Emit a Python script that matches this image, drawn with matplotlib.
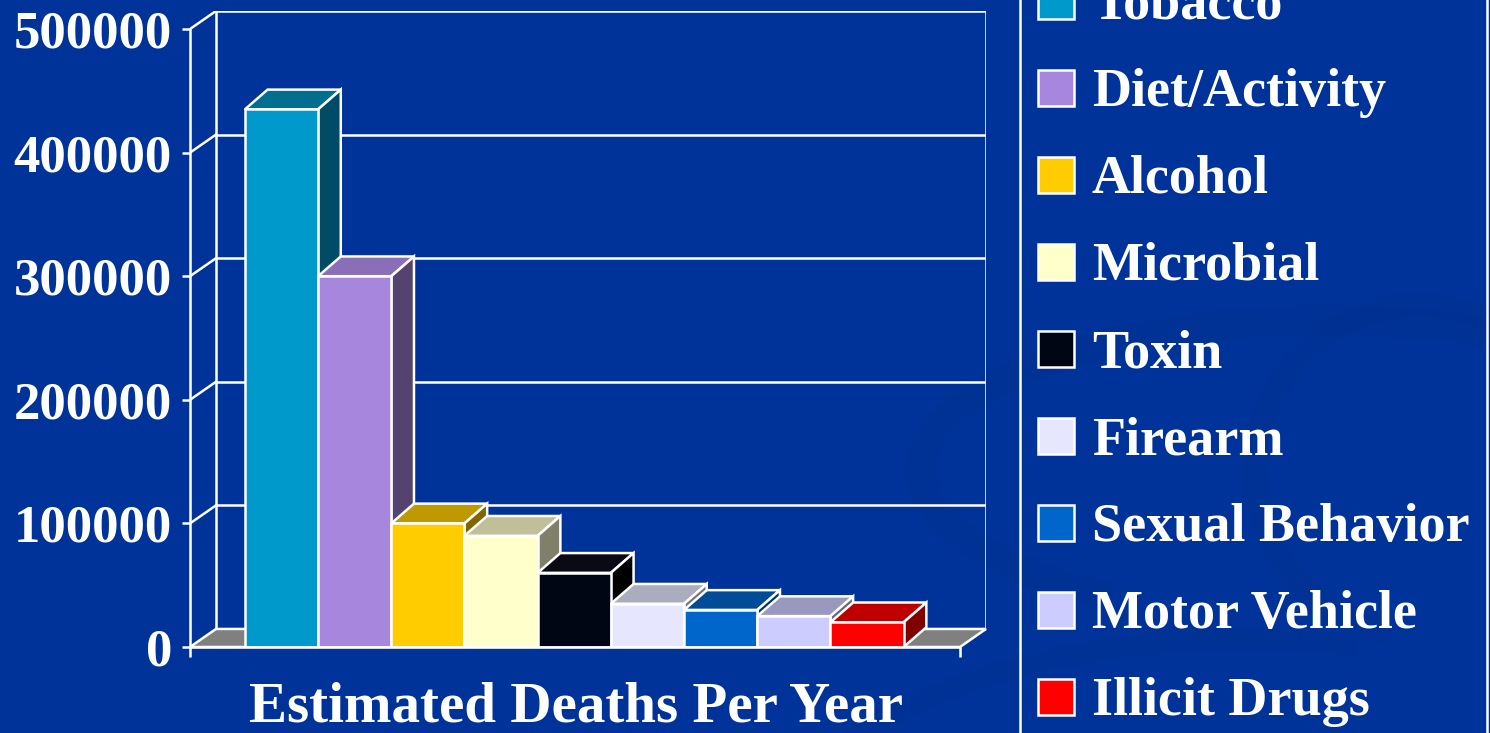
import matplotlib

matplotlib.use("Agg")
import matplotlib.pyplot as plt
from matplotlib.patches import Polygon, Rectangle, Arc

categories = ["Tobacco", "Diet/Activity", "Alcohol", "Microbial", "Toxin",
              "Firearm", "Sexual Behavior", "Motor Vehicle", "Illicit Drugs"]
deaths = [435000, 300000, 100000, 90000, 60000, 35000, 30000, 25000, 20000]
front_colors = ["#0099CC", "#A786DE", "#FFCC00", "#FFFFCC", "#000614",
                "#E6E6FF", "#0066CC", "#CCCCFF", "#FF0000"]
top_colors = ["#006F8F", "#8A6FB8", "#BF9900", "#BFBF99", "#0A0A14",
              "#ACACBF", "#004C99", "#9999BF", "#BF0000"]
side_colors = ["#004C66", "#54436F", "#806600", "#80806A", "#000000",
               "#737380", "#003366", "#666680", "#800000"]
yticks = [0, 100000, 200000, 300000, 400000, 500000]
xlabel = "Estimated Deaths Per Year"

W, H = 1490, 733
BG = "#003399"
WHITE = "white"
LW = 1.8
FONT = ["Liberation Serif", "DejaVu Serif"]

# 3d box geometry (data units)
XL, XR = -1.25, 9.27          # front plane left / right
DX, DY = 0.355, 14600         # wall depth offset
BX, BY = 0.31, 16000          # bar depth offset
YMAX = 500000

fig = plt.figure(figsize=(W / 100, H / 100), dpi=100, facecolor=BG)

# faint background swirl
bg = fig.add_axes([0, 0, 1, 1])
bg.set_xlim(0, W)
bg.set_ylim(H, 0)
bg.axis("off")
bg.set_facecolor(BG)
for cx, cy, w, h, t1, t2, lw in [(1330, 470, 820, 300, 150, 330, 22),
                                  (1420, 470, 330, 330, 100, 300, 18),
                                  (1250, 830, 900, 380, 190, 300, 16)]:
    bg.add_patch(Arc((cx, cy), w, h, theta1=t1, theta2=t2, color="#00318F",
                     lw=lw, alpha=0.4))

ax = fig.add_axes([190 / W, 1 - 647 / H, (986 - 190) / W, (647 - 11) / H])
ax.set_xlim(XL, XR + DX)
ax.set_ylim(0, YMAX + DY)
ax.patch.set_visible(False)
for s in ax.spines.values():
    s.set_visible(False)

# walls and gridlines
for v in yticks[1:]:
    ax.plot([XL + DX, XR + DX], [v + DY, v + DY], color=WHITE, lw=LW, zorder=1)
    ax.plot([XL, XL + DX], [v, v + DY], color=WHITE, lw=LW, zorder=1)
ax.plot([XL + DX, XL + DX], [DY, YMAX + DY], color=WHITE, lw=LW, zorder=1)
ax.plot([XR + DX, XR + DX], [DY, YMAX + DY], color=WHITE, lw=LW, zorder=1)
ax.plot([XL, XL], [0, YMAX], color=WHITE, lw=LW, zorder=1, clip_on=False)

# floor
ax.add_patch(Polygon([(XL, 0), (XR, 0), (XR + DX, DY), (XL + DX, DY)],
                     closed=True, facecolor="#808080", edgecolor=WHITE, lw=LW,
                     zorder=2, clip_on=False))

# bars with top and side faces
for i, v in enumerate(deaths):
    x0, x1 = i - 0.5, i + 0.5
    z = 3 + i
    ax.bar(i, v, width=1.0, color=front_colors[i], edgecolor=WHITE, lw=LW,
           zorder=z + 0.2)
    ax.add_patch(Polygon([(x0, v), (x1, v), (x1 + BX, v + BY), (x0 + BX, v + BY)],
                         closed=True, facecolor=top_colors[i], edgecolor=WHITE,
                         lw=LW, zorder=z))
    ax.add_patch(Polygon([(x1, 0), (x1 + BX, BY), (x1 + BX, v + BY), (x1, v)],
                         closed=True, facecolor=side_colors[i], edgecolor=WHITE,
                         lw=LW, zorder=z))

ax.plot([XL, XR], [0, 0], color=WHITE, lw=LW, zorder=20, clip_on=False)

ax.set_yticks(yticks)
ax.set_yticklabels([str(t) for t in yticks], family=FONT, fontweight="bold",
                   fontsize=38, color=WHITE)
ax.tick_params(axis="y", colors=WHITE, length=6, width=LW, pad=7)
ax.set_xticks([XL, XR])
ax.set_xticklabels([])
ax.tick_params(axis="x", colors=WHITE, length=7, width=LW)

fig.text(576 / W, 1 - 721 / H, xlabel, family=FONT, fontweight="bold",
         fontsize=41, color=WHITE, ha="center", va="baseline")

# legend panel
for lx in (1020, 1487):
    fig.add_artist(plt.Line2D([lx / W, lx / W], [0, 1], color=WHITE, lw=LW,
                              transform=fig.transFigure))
row0, step, sq = 0.6, 87.1, 36
for k, name in enumerate(categories):
    cy = row0 + step * k
    fig.add_artist(Rectangle((1038 / W, 1 - (cy + sq / 2) / H), sq / W, sq / H,
                             facecolor=front_colors[k], edgecolor=WHITE, lw=LW,
                             transform=fig.transFigure))
    fig.text(1092 / W, 1 - (cy + sq / 2) / H, name, family=FONT,
             fontweight="bold", fontsize=39, color=WHITE, va="baseline")

fig.savefig("out.png", dpi=100, facecolor=BG)
